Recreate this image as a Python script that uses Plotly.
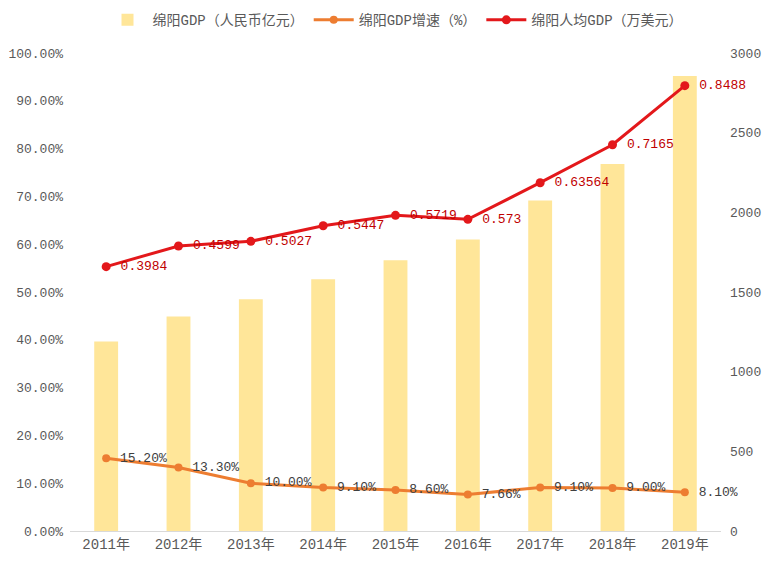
import plotly.graph_objects as go

years = ["2011年", "2012年", "2013年", "2014年", "2015年", "2016年", "2017年", "2018年", "2019年"]
gdp = [1189, 1346, 1455, 1580, 1700, 1830, 2075, 2304, 2856]           # 绵阳GDP（人民币亿元）
growth = [0.152, 0.133, 0.100, 0.091, 0.086, 0.0766, 0.091, 0.090, 0.081]  # 绵阳GDP增速
growth_labels = ["15.20%", "13.30%", "10.00%", "9.10%", "8.60%", "7.66%", "9.10%", "9.00%", "8.10%"]
percap_plot = [1659, 1789, 1818, 1916, 1981, 1956, 2186, 2424, 2795]    # plotted height (read on right scale)
percap_labels = ["0.3984", "0.4599", "0.5027", "0.5447", "0.5719", "0.573", "0.63564", "0.7165", "0.8488"]

FONT = "Liberation Mono, Noto Sans CJK SC, monospace"

fig = go.Figure()
fig.add_trace(go.Bar(
    x=years, y=gdp, name="绵阳GDP（人民币亿元）",
    marker=dict(color="#FFE699", line=dict(width=0)),
    width=0.33, yaxis="y",
))
fig.add_trace(go.Scatter(
    x=years, y=growth, name="绵阳GDP增速（%）", yaxis="y2",
    mode="lines+markers+text", text=growth_labels, texttemplate=" %{text}",
    textposition="middle right", cliponaxis=False,
    textfont=dict(family=FONT, size=13, color="#404040"),
    line=dict(color="#ED7D31", width=3), marker=dict(color="#ED7D31", size=8),
))
fig.add_trace(go.Scatter(
    x=years, y=percap_plot, name="绵阳人均GDP（万美元）", yaxis="y3",
    mode="lines+markers+text", text=percap_labels, texttemplate=" %{text}",
    textposition="middle right", cliponaxis=False,
    textfont=dict(family=FONT, size=13, color="#C00000"),
    line=dict(color="#E3181B", width=3), marker=dict(color="#E3181B", size=9),
))

fig.update_layout(
    width=777, height=564,
    margin=dict(l=70, r=56, t=53, b=33, autoexpand=False),
    paper_bgcolor="white", plot_bgcolor="white",
    font=dict(family=FONT, size=13, color="#595959"),
    showlegend=True,
    legend=dict(orientation="h", x=0.5, xanchor="center", y=1.035, yanchor="bottom",
                yref="paper", font=dict(family=FONT, size=14, color="#595959"),
                itemwidth=40, traceorder="normal"),
    xaxis=dict(type="category", range=[-0.5, 8.5], showgrid=False, showline=True,
               linecolor="#D9D9D9", linewidth=1, ticks="", zeroline=False,
               tickfont=dict(family=FONT, size=14, color="#595959")),
    yaxis=dict(side="right", range=[0, 3000], dtick=500, showgrid=False, zeroline=False,
               showline=False, ticks="", ticklabelstandoff=8,
               tickfont=dict(family=FONT, size=13, color="#595959")),
    yaxis2=dict(side="left", overlaying="y", range=[0, 1], dtick=0.1, tickformat=".2%",
                showgrid=False, zeroline=False, showline=False, ticks="", ticklabelstandoff=6,
                tickfont=dict(family=FONT, size=13, color="#595959")),
    yaxis3=dict(overlaying="y", range=[0, 3000], visible=False, showgrid=False),
    bargap=0.67,
)

fig.write_html("out.html")
